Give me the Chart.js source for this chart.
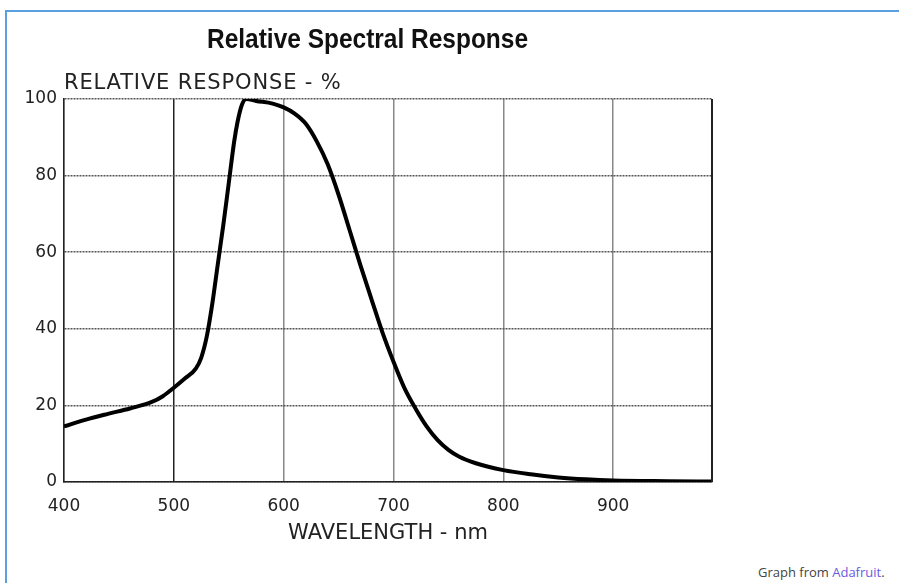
<!DOCTYPE html>
<html>
<head>
<meta charset="utf-8">
<script src="https://cdn.jsdelivr.net/npm/chart.js@4"></script>
<style>
  html, body { margin: 0; padding: 0; overflow: hidden; background: #fff; }
  #frame {
    position: absolute; left: 5px; top: 10px; width: 900px; height: 580px;
    border-top: 2px solid #5c9fe0; border-left: 2px solid #5c9fe0;
  }
  #wrap { position: absolute; left: 8px; top: 12px; width: 719px; height: 571px; }
  #credit {
    position: absolute; left: 758px; top: 563px;
    font: 13px "Open Sans", "DejaVu Sans", sans-serif; color: #444;
  }
  #credit a { color: #6a5ae0; text-decoration: none; }
</style>
</head>
<body>
<div id="frame"></div>
<div id="wrap"><canvas id="spectrumChart"></canvas></div>
<div id="credit">Graph from <a href="#">Adafruit</a>.</div>

<script>
// Wavelength (nm) and relative response (%)
const wavelengths = [400, 420, 440, 460, 480, 490, 500, 510, 520, 525, 530, 535, 540, 545, 550, 555, 558, 562, 566, 575, 590, 600, 610, 620, 630, 640, 650, 660, 670, 680, 690, 700, 710, 720, 730, 740, 750, 760, 775, 800, 825, 850, 875, 900, 950, 990];
const response = [14.5, 16.3, 17.8, 19.2, 20.9, 22.4, 24.6, 27.0, 29.6, 32.5, 38.0, 46.5, 56.8, 67.0, 78.0, 89.0, 94.0, 98.5, 100, 99.5, 98.8, 97.8, 96.2, 93.6, 89.0, 83.0, 75.0, 65.8, 56.5, 47.7, 39.0, 31.4, 24.5, 19.2, 14.6, 11.0, 8.4, 6.6, 4.9, 3.1, 2.0, 1.2, 0.7, 0.4, 0.2, 0.1];
const xTicks = [400, 500, 600, 700, 800, 900];
const yTicks = [0, 20, 40, 60, 80, 100];

const chartTitle = 'Relative Spectral Response';
const yCaption = 'RELATIVE RESPONSE - %';

const tickFont = { family: "'DejaVu Sans', sans-serif", size: 17 };
const labelFont = { family: "'DejaVu Sans', sans-serif", size: 21 };

// Title (narrowed bold), y caption and right edge of the plot box
const frameBox = {
  id: 'frameBox',
  afterDraw(chart) {
    const { ctx, chartArea, width } = chart;
    ctx.save();
    ctx.strokeStyle = '#222';
    ctx.lineWidth = 2;
    ctx.beginPath();
    ctx.moveTo(chartArea.right, chartArea.top);
    ctx.lineTo(chartArea.right, chartArea.bottom);
    ctx.stroke();

    ctx.fillStyle = '#222';
    ctx.font = "21px 'DejaVu Sans', sans-serif";
    ctx.letterSpacing = '0.85px';
    ctx.textAlign = 'left';
    ctx.textBaseline = 'alphabetic';
    ctx.fillText(yCaption, chartArea.left, chartArea.top - 10);
    ctx.restore();

    // condensed bold title, squeezed to the original's width
    ctx.save();
    ctx.font = "bold 28px 'Liberation Sans', Arial, sans-serif";
    ctx.fillStyle = '#111';
    ctx.textAlign = 'center';
    ctx.textBaseline = 'middle';
    const sx = 321 / ctx.measureText(chartTitle).width;
    ctx.translate(width / 2, 28);
    ctx.scale(sx, 1);
    ctx.fillText(chartTitle, 0, 0);
    ctx.restore();
  }
};

const ctx = document.getElementById('spectrumChart').getContext('2d');
new Chart(ctx, {
  type: 'line',
  data: {
    datasets: [{
      data: wavelengths.map((w, i) => ({ x: w, y: response[i] })),
      borderColor: '#000',
      borderWidth: 4,
      pointRadius: 0,
      cubicInterpolationMode: 'monotone',
      fill: false
    }]
  },
  options: {
    responsive: true,
    maintainAspectRatio: false,
    animation: false,
    layout: { padding: { left: 0, right: 15, top: 87, bottom: 0 } },
    plugins: {
      legend: { display: false },
      tooltip: { enabled: false },
      title: { display: false }
    },
    scales: {
      x: {
        type: 'linear',
        min: 400,
        max: 990,
        afterBuildTicks: scale => { scale.ticks = xTicks.map(v => ({ value: v })); },
        afterFit: scale => { scale.height = 101; },
        ticks: { font: tickFont, color: '#222', padding: 14 },
        grid: {
          drawTicks: false,
          color: c => (c.tick && c.tick.value === 500) ? '#222' : '#888',
          lineWidth: 1.5
        },
        border: { display: true, color: '#222', width: 1.5 },
        title: {
          display: true,
          text: 'WAVELENGTH - nm',
          font: labelFont,
          color: '#222',
          padding: { top: 0, bottom: 37 }
        }
      },
      y: {
        min: 0,
        max: 100,
        afterBuildTicks: scale => { scale.ticks = yTicks.map(v => ({ value: v })); },
        afterFit: scale => { scale.width = 56; },
        ticks: { font: tickFont, color: '#222', padding: 7 },
        grid: { drawTicks: false, color: '#555', lineWidth: 1.5 },
        border: { display: true, color: '#222', width: 1.5, dash: [2, 1] }
      }
    }
  },
  plugins: [frameBox]
});
</script>
</body>
</html>
